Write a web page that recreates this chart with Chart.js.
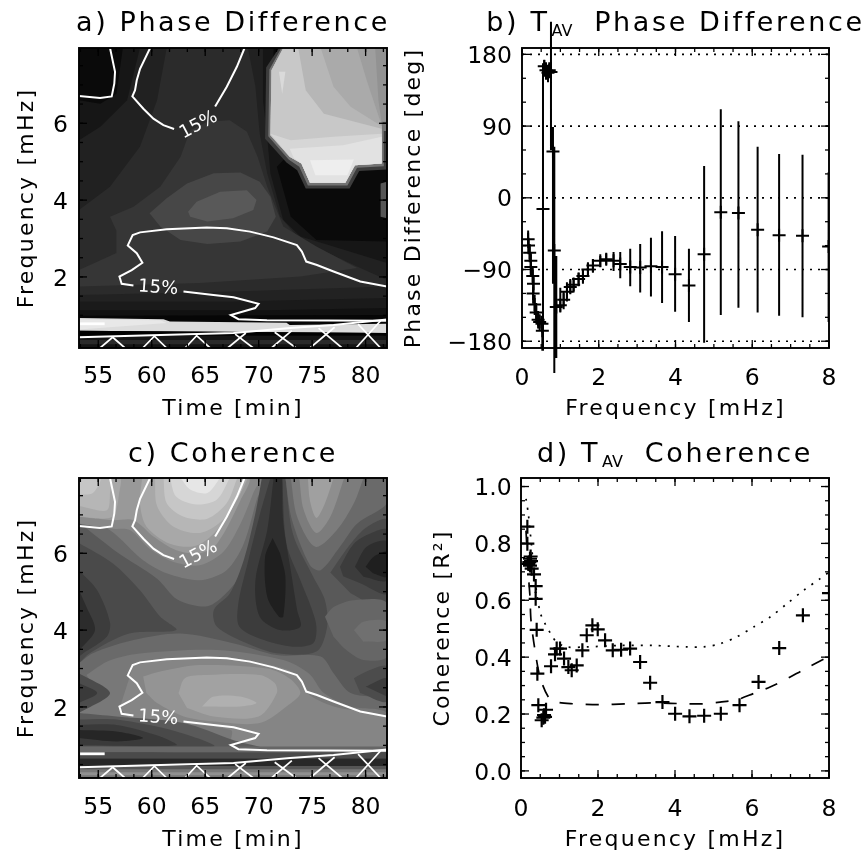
<!DOCTYPE html>
<html>
<head>
<meta charset="utf-8">
<title>Phase difference and coherence</title>
<script src="https://cdn.jsdelivr.net/npm/chart.js@4/dist/chart.umd.js"></script>
<style>
  html, body { margin: 0; padding: 0; background: #fff; overflow: hidden; }
  body { width: 863px; height: 855px; position: relative; }
  canvas { position: absolute; filter: blur(0.6px); }
</style>
</head>
<body>
<canvas id="panelA" width="400" height="425" style="left:0;top:0"></canvas>
<canvas id="panelB" width="463" height="425" style="left:400px;top:0"></canvas>
<canvas id="panelC" width="400" height="425" style="left:0;top:430px"></canvas>
<canvas id="panelD" width="463" height="425" style="left:400px;top:430px"></canvas>
<script>
// axes
const timeTicks = [55, 60, 65, 70, 75, 80];
const freqTicks = [2, 4, 6];
const freqAxisTicks = [0, 2, 4, 6, 8];
const phaseTicks = [-180, -90, 0, 90, 180];
const phaseTickLabels = ['\u2212180', '\u221290', '0', '90', '180'];
const cohTicks = [0, 0.2, 0.4, 0.6, 0.8, 1];
const cohTickLabels = ['0.0', '0.2', '0.4', '0.6', '0.8', '1.0'];

// white 15% contours, same on both maps: [minutes, mHz]
const contourTopLeft = [[56.1,7.96],[56.57,7.34],[56.5,7.03],[56.26,6.7],[55.17,6.66],[53.2,6.71]];
const contourTopA = [[59.85,7.96],[58.91,7.42],[58.6,7.12],[58.44,6.86],[58.19,6.7],[59.22,6.38],[60.16,6.12],[61.09,5.95],[62.09,5.85]];
const contourTopB = [[65.93,6.44],[67.02,6.95],[67.96,7.47],[68.68,7.96]];
const contourMidA = [[82,1.75],[79.5,1.88],[77,2.14],[75.45,2.31],[74.45,2.4],[74.04,2.66],[73.57,2.83],[71.39,3.03],[69.2,3.18],[67.02,3.27],[65.15,3.29],[61.41,3.24],[58.91,3.16],[58.22,3.09],[57.76,2.82],[58.6,2.62],[59.13,2.37],[58.13,2.18],[56.98,2.01],[57.19,1.82],[58.29,1.78]];
const contourMidB = [[62.97,1.62],[65.77,1.53],[67.65,1.47],[69.99,1.3],[69.67,1.19],[67.4,1.01],[68.11,0.9],[70.77,0.87],[82,0.86]];
const contourCone = [[53.2,0.43],[58.29,0.47],[67.65,0.54],[72.95,0.67],[77,0.75],[82,0.89]];
const contourDash = [[53.3,0.78],[55.6,0.78]];
const hatchLines = [
  [[55.17,0.15],[56.35,0.43],[57.5,0.15]],
  [[59.16,0.15],[60.25,0.46],[61.4,0.15]],
  [[63.12,0.15],[64.2,0.47],[65.46,0.15]],
  [[67.1,0.15],[68.8,0.54]], [[67.8,0.51],[69.5,0.15]],
  [[71.2,0.15],[73.1,0.6]], [[71.5,0.56],[73.5,0.15]],
  [[74.8,0.15],[77.1,0.69]], [[75.6,0.67],[77.8,0.15]],
  [[79.1,0.15],[81.4,0.86]], [[79.3,0.77],[81.4,0.15]]
];
const contourLabelTime = [64.4, 60.6];
const contourLabelFreq = [5.95, 1.71];
const contourLabelAngle = [-28, 4];

// panel a filled levels, painted in this order
const phaseBandGrays = ['#0a0a0a','#161616','#212121','#2b2b2b','#363636','#474747','#595959','#222222','#1a1a1a','#111111','#060606','#dcdcdc','#e8e8e8','#000000','#141414','#2a2a2a','#565656','#3c3c3c','#737373','#929292','#9e9e9e','#aaaaaa','#b6b6b6','#c8c8c8','#d6d6d6','#e2e2e2','#eeeeee','#dadada'];
const phaseBands = [
  [[53.2,0.15],[82,0.15],[82,7.96],[53.2,7.96]],
  [[53.2,6.6],[55.2,6.51],[56.7,6.77],[57.3,7.96],[71.4,7.96],[71.2,5.65],[72.6,5.13],[71.7,4.87],[73,3.57],[75.4,2.96],[82,2.92],[82,0.54],[53.2,0.54]],
  [[53.2,5.56],[55.2,5.91],[57.7,6.6],[58.9,7.96],[70.4,7.96],[70.4,6.6],[70.8,5.65],[71.1,4.69],[72.3,3.48],[73.9,3.05],[77.6,2.74],[82,2.36],[82,0.54],[53.2,0.54]],
  [[53.2,3.74],[56.1,4.35],[58.9,5.39],[60.5,6.6],[61.4,7.96],[69,7.96],[69.7,6.95],[70.1,5.73],[70.8,4.69],[72,3.57],[73.9,2.96],[79.2,2.27],[82,1.92],[82,1.4],[53.2,1.4]],
  [[56.7,3.2],[56.1,3.57],[58.3,3.83],[60.8,4.35],[62.7,5.13],[63.6,5.82],[65.2,6.04],[67.3,6.08],[68.9,5.78],[69.9,5.13],[70.8,4.35],[72.3,3.31],[75.4,2.79],[79.2,2.23],[73.9,2.01],[64.5,1.84],[53.2,1.75],[53.2,2.18],[56.7,2.62]],
  [[59.8,3.66],[61.4,4.05],[63.3,4.43],[65.8,4.7],[68.3,4.72],[70.1,4.48],[71.1,4.09],[71.6,3.57],[70.8,3.18],[68.3,2.92],[65.2,2.86],[62.7,2.96],[60.8,3.31]],
  [[63.4,3.7],[64.2,3.96],[66.4,4.22],[68.9,4.26],[69.8,4],[69.5,3.74],[67.6,3.53],[65.2,3.44],[63.6,3.57]],
  [[53.2,1.53],[67.6,1.62],[82,1.75],[82,0.54],[53.2,0.54]],
  [[53.2,1.36],[67.6,1.36],[82,1.45],[82,0.54],[53.2,0.54]],
  [[53.2,1.13],[70.8,1.13],[82,1.19],[82,0.54],[53.2,0.54]],
  [[53.2,0.99],[82,1.01],[82,0.54],[53.2,0.54]],
  [[53.2,0.93],[61.1,0.9],[61.7,0.84],[72.6,0.81],[72.9,0.75],[82,0.78],[82,0.54],[53.2,0.6]],
  [[53.2,0.89],[60.8,0.87],[61.4,0.8],[53.2,0.63]],
  [[53.2,0.6],[82,0.54],[82,0.47],[53.2,0.47]],
  [[53.2,0.47],[82,0.47],[82,0.15],[53.2,0.15]],
  [[53.2,0.36],[82,0.36],[82,0.25],[53.2,0.25]],
  [[81.4,4.43],[82,4.48],[82,3.53],[81.4,3.57]],
  [[72,8],[70.7,7.45],[70.6,5.6],[72.6,4.98],[73.6,4.78],[74.4,4.3],[78.5,4.3],[79.4,4.76],[82,4.8],[82,8]],
  [[72.2,8],[71,7.4],[70.9,5.66],[72.8,5.06],[73.8,4.87],[74.6,4.38],[78.3,4.38],[79.2,4.84],[81.7,4.88],[81.7,5.8],[82,5.8],[82,8]],
  [[72.3,7.96],[71.2,7.38],[71.1,5.69],[72.9,5.13],[74,4.95],[74.8,4.45],[78.1,4.45],[79,4.91],[81.5,4.95],[81.5,6.04],[82,6.04],[82,7.96]],
  [[72.3,7.96],[80.9,7.96],[81.2,6.6],[81.5,6],[81.5,4.95],[79,4.91],[78.1,4.45],[74.8,4.45],[74,4.95],[72.9,5.13],[71.1,5.69],[71.2,7.38]],
  [[72.3,7.96],[79.2,7.96],[80.1,7.12],[81.5,5.95],[81.5,4.95],[79,4.91],[78.1,4.45],[74.8,4.45],[74,4.95],[72.9,5.13],[71.1,5.69],[71.2,7.38]],
  [[72.3,7.96],[75.8,7.96],[77,6.95],[78.6,6.43],[81.5,5.92],[81.5,4.95],[79,4.91],[78.1,4.45],[74.8,4.45],[74,4.95],[72.9,5.13],[71.1,5.69],[71.2,7.38]],
  [[72.3,7.96],[73.7,7.96],[74.4,6.86],[76.1,6.25],[81.5,5.86],[81.5,4.95],[79,4.91],[78.1,4.45],[74.8,4.45],[74,4.95],[72.9,5.13],[71.1,5.69],[71.2,7.38]],
  [[71.1,5.73],[73,5.56],[77,5.65],[81.5,5.73],[81.5,4.95],[79,4.91],[78.1,4.45],[74.8,4.45],[74,4.95],[72.9,5.13]],
  [[72.9,5.34],[77.9,5.43],[81.5,5.65],[81.5,4.95],[79,4.91],[78.1,4.45],[74.8,4.45],[74,4.95],[73.3,5.09]],
  [[74.8,5.04],[78.9,5.06],[78.3,4.65],[75.3,4.65]],
  [[71.9,7.34],[72.5,7.34],[72.2,6.77]]
];

// panel c filled levels, painted in this order
const cohBandGrays = ['#595959','#6a6a6a','#7a7a7a','#888888','#999999','#a8a8a8','#a8a8a8','#b6b6b6','#b6b6b6','#c6c6c6','#c6c6c6','#d6d6d6','#e6e6e6','#4a4a4a','#3c3c3c','#2e2e2e','#1f1f1f','#6a6a6a','#7c7c7c','#8e8e8e','#a0a0a0','#4a4a4a','#3c3c3c','#2e2e2e','#1f1f1f','#666666','#707070','#4a4a4a','#3c3c3c','#2c2c2c','#6a6a6a','#787878','#858585','#949494','#a2a2a2','#b0b0b0','#4c4c4c','#3c3c3c','#4c4c4c','#3a3a3a','#5a5a5a','#494949','#3a3a3a','#262626'];
const cohBands = [
  [[53.2,0.15],[82,0.15],[82,7.96],[53.2,7.96]],
  [[53.2,6.8],[56.7,6.04],[60.5,5.34],[62.4,4.8],[65.2,4.62],[67,4.97],[68.6,5.58],[69.8,6.6],[71.1,7.96],[53.2,7.96]],
  [[53.2,6.95],[56.1,6.6],[59.2,5.82],[61.4,5.48],[64.5,5.3],[67,5.56],[68.6,6.25],[69.8,7.38],[70.4,7.96],[53.2,7.96]],
  [[53.2,6.77],[56.4,6.64],[58,6.6],[59.8,6.12],[62,5.78],[64.5,5.69],[66.7,6.04],[68.3,6.77],[69.5,7.57],[70,7.96],[53.2,7.96]],
  [[53.2,6.95],[56.4,6.86],[58.3,6.86],[60.2,6.43],[62.3,6.08],[64.5,6],[66.1,6.25],[68.3,7.38],[69,7.96],[53.2,7.96]],
  [[53.2,6.95],[56.3,6.95],[57,7.64],[57,7.96],[53.2,7.96]],
  [[59.1,7.96],[58.9,7.3],[59.5,6.7],[61.7,6.25],[64.2,6.2],[66.4,6.7],[68.3,7.57],[69,7.96]],
  [[53.2,7.23],[55.8,7.12],[56.1,7.57],[56.1,7.96],[53.2,7.96]],
  [[60.3,7.96],[60.5,7.23],[62,6.7],[64.5,6.53],[66.7,6.88],[68.3,7.57],[68.7,7.96]],
  [[53.2,7.53],[54.5,7.57],[55.2,7.96],[53.2,7.96]],
  [[61.1,7.96],[61.4,7.3],[63,6.95],[65.2,6.9],[67,7.3],[68,7.96]],
  [[61.7,7.96],[62.3,7.47],[64.2,7.27],[66.1,7.4],[67.3,7.96]],
  [[62.7,7.96],[63.6,7.66],[65.2,7.57],[66.4,7.96]],
  [[70.3,7.96],[69.7,7.05],[68.6,5.82],[67.3,4.95],[65.8,4.52],[66.1,4.09],[68.9,3.66],[71.7,3.4],[75.4,3.44],[76.4,4.09],[76.2,4.78],[75.1,5.39],[73.2,6.51],[72.5,7.96]],
  [[71.1,7.96],[70.1,7],[69,5.78],[68.1,4.69],[68.2,4.09],[70.5,3.74],[73.2,3.57],[75.1,3.66],[75.4,4.09],[74.9,4.6],[73.9,5.3],[72.6,6.25],[72.2,7.96]],
  [[71.4,7.96],[70.8,6.6],[69.7,5.3],[70.1,4.35],[72,4],[73.9,4.09],[73.6,4.52],[73,5.56],[72.3,6.8],[72.2,7.96]],
  [[71.3,6.4],[70.6,5.91],[70.8,4.87],[71.9,4.35],[72.3,4.35],[72.5,5.39],[72,6]],
  [[72.5,7.96],[73.1,6.88],[74.8,5.69],[75.8,5.56],[77.6,6.17],[79.2,6.77],[82,7.3],[82,7.96]],
  [[73,7.96],[73.6,6.95],[75.3,6.17],[77.3,6.6],[78.9,7.3],[79.8,7.96]],
  [[73.8,7.96],[74.2,7.14],[75.4,6.53],[76.7,6.95],[78,7.96]],
  [[74.6,7.96],[74.8,7.36],[75.4,6.92],[76.2,7.3],[77,7.96]],
  [[76.7,5.5],[78.6,6.25],[80.1,6.68],[82,6.86],[82,4.53],[78.6,4.96]],
  [[77.6,5.65],[78.9,6.25],[80.4,6.51],[82,6.6],[82,4.96],[79.5,5.22],[77.9,5.4]],
  [[79,5.65],[80.1,6.17],[82,6.3],[82,5.3],[79.8,5.39]],
  [[80,5.65],[80.7,5.9],[82,6.04],[82,5.39],[80.7,5.48]],
  [[76.2,4.35],[77,4.6],[78.9,4.78],[82,4.7],[82,3.31],[79.8,3.22],[78.2,3.48],[77,3.83]],
  [[78.9,4],[79.8,4.22],[82,4.22],[82,3.74],[79.8,3.7]],
  [[53.2,6.27],[56.4,5.73],[58.9,5.04],[60.8,4.35],[62.3,4],[57.9,3.91],[54.2,3.4],[53.2,3.14]],
  [[53.2,5.56],[54.9,5.04],[56.1,4.2],[55.8,3.83],[53.6,3.4],[53.2,3.31]],
  [[53.2,5.04],[53.9,4.6],[54.7,4],[53.3,3.49]],
  [[53.2,3.14],[54.5,3.4],[58.3,3.74],[62.7,3.91],[67.6,3.66],[71.7,3.35],[75.8,3.31],[77,2.88],[78.6,2.36],[82,2.14],[82,0.9],[53.2,0.9]],
  [[53.9,2.83],[56,3.2],[58.9,3.39],[66.1,3.48],[72.3,3.22],[74.7,2.87],[76.1,2.36],[78.6,2.01],[82,1.84],[82,0.97],[53.2,0.97],[53.2,1.93],[55.2,2.27]],
  [[58.3,3.09],[61.4,3.24],[67,3.29],[71.4,3.07],[73.6,2.83],[74.5,2.36],[77,2.01],[82,1.71],[82,0.9],[67.4,0.9],[67.4,1.4],[58.3,1.66],[57,1.97]],
  [[59.2,2.79],[60.8,2.92],[64.5,3.09],[70.8,3],[72.9,2.74],[73.9,2.36],[72.6,2.01],[70.1,1.58],[65.8,1.62],[63,1.75],[60.5,2.1],[59.5,2.36]],
  [[62.5,2.36],[63.1,2.75],[65.1,2.83],[70.1,2.83],[71.5,2.62],[71.7,2.36],[70,1.75],[65.8,1.75],[63.3,1.97]],
  [[64.7,2.01],[65.8,2.27],[68.3,2.27],[69.8,2.1],[68.3,2.01],[65.5,2.01]],
  [[78.9,2.75],[80.4,2.96],[82,3.05],[82,2.14],[79.5,2.36]],
  [[80,2.53],[82,2.75],[82,2.27]],
  [[53.2,2.88],[56.1,2.36],[53.2,1.84]],
  [[53.2,2.62],[54.9,2.36],[53.2,2.1]],
  [[53.2,1.84],[56.7,1.75],[63,1.58],[67.6,1.14],[70.8,0.88],[53.2,0.88]],
  [[53.2,1.67],[56.7,1.67],[62.3,1.36],[65.8,0.97],[53.2,0.97]],
  [[53.2,1.53],[56.7,1.53],[60.8,1.23],[62.3,1],[53.2,1]],
  [[53.2,1.4],[56.7,1.36],[59.2,1.19],[56.7,1.1],[53.2,1.19]]
];
const cohStripeGrays = ['#666666','#4a4a4a','#282828','#555555','#777777','#909090'];
const cohStripes = [
  [[53.2,0.97],[82,0.97],[82,0.82],[53.2,0.82]],
  [[53.2,0.82],[82,0.82],[82,0.66],[53.2,0.66]],
  [[53.2,0.66],[82,0.66],[82,0.46],[53.2,0.46]],
  [[53.2,0.46],[82,0.46],[82,0.15],[53.2,0.15]],
  [[53.2,0.38],[82,0.38],[82,0.17],[53.2,0.17]],
  [[53.2,0.3],[82,0.3],[82,0.22],[53.2,0.22]]
];

// panel b
const phaseFreq = [0.16,0.17,0.2,0.23,0.23,0.28,0.3,0.29,0.33,0.37,0.42,0.46,0.52,0.53,0.547,0.58,0.625,0.677,0.71,0.755,0.807,0.842,0.894,0.998,1.085,1.171,1.258,1.345,1.475,1.588,1.718,1.848,2.04,2.195,2.386,2.56,2.82,3.08,3.36,3.65,3.99,4.35,4.746,5.18,5.64,6.14,6.7,7.31,7.99];
const phaseValue = [-52,-60,-69,-79,-87,-98,-108,-120,-134,-144,-153,-156,-158,-167,-14,165,160,157,160,158,58,-66,-137,-135,-128,-118,-112,-109,-102,-98,-90,-85,-79,-77,-79,-83,-87,-87.5,-86,-87,-96,-110,-71,-18,-19,-40,-47,-47.5,-61];
const phaseHigh = [-41,-50,-58,-68,-76,-88,-97,-108,-122,-132,-142,-146,-148,-155,169,173,170,167,170,221,89,64,-73,-113,-117,-106,-102,-100,-94,-90,-81,-77,-73,-70,-68,-68,-64,-58,-50,-42,-48,-64,40,111,96,64,55,54,32];
const phaseLow = [-63,-71,-81,-91,-99,-109,-120,-133,-147,-157,-164,-167,-169,-192,-192,152,148,145,150,60,-108,-220,-201,-144,-140,-130,-121,-119,-111,-108,-98,-94,-87,-84,-92,-101,-111,-119,-124,-132,-143,-156,-182,-147,-138,-144,-148,-150,-156];
const phaseRefLines = [180, 90, 0, -90, -180];
const refLineFreq = [0, 8];

// panel d
const cohFreq = [0.165,0.165,0.19,0.234,0.25,0.217,0.26,0.234,0.277,0.338,0.381,0.381,0.407,0.425,0.45,0.65,0.598,0.537,0.58,0.624,0.78,0.884,0.927,1.014,1.118,1.23,1.317,1.447,1.594,1.707,1.854,1.993,2.184,2.383,2.6,2.834,3.094,3.354,3.674,4.003,4.376,4.757,5.19,5.676,6.17,6.707,7.322,8];
const cohValue = [0.859,0.799,0.728,0.746,0.754,0.734,0.738,0.722,0.711,0.691,0.65,0.605,0.496,0.342,0.231,0.215,0.196,0.178,0.187,0.19,0.368,0.41,0.43,0.43,0.395,0.365,0.354,0.371,0.424,0.477,0.512,0.498,0.459,0.424,0.426,0.43,0.383,0.31,0.242,0.201,0.192,0.194,0.201,0.231,0.313,0.432,0.547,0.625];
const dottedFreq = [0.13,0.19,0.277,0.364,0.494,0.624,0.797,0.927,1.187,1.707,2.574,3.44,4.31,4.74,5.17,5.6,6.04,6.47,6.91,7.34,7.77,8];
const dottedCoh = [0.957,0.904,0.787,0.67,0.559,0.518,0.477,0.453,0.436,0.436,0.441,0.441,0.436,0.436,0.447,0.471,0.506,0.541,0.588,0.635,0.676,0.699];
const dashedFreq = [0.13,0.19,0.234,0.26,0.364,0.494,0.71,0.927,1.36,2.05,2.75,3.44,4.31,4.74,5.17,5.6,6.04,6.47,6.91,7.34,8];
const dashedCoh = [0.845,0.693,0.611,0.529,0.424,0.33,0.26,0.242,0.236,0.233,0.236,0.239,0.236,0.236,0.242,0.25,0.272,0.295,0.324,0.356,0.403];

const fontName = '"DejaVu Sans", sans-serif';
const ink = '#000';
const titleSize = 27;
const titleSpacing = 2.6;

function pairsToPoints(pairs) {
    return pairs.map(p => ({ x: p[0], y: p[1] }));
}

function zip(xs, ys) {
    return xs.map((x, i) => ({ x: x, y: ys[i] }));
}

// draws the box and the inward ticks on all four sides, and the extras on top
const idlFrame = {
    id: 'idlFrame',
    beforeDraw(chart) {
        // title goes over the plot, wider than it, and not over the whole canvas
        const box = chart.titleBlock;
        const mid = (chart.chartArea.left + chart.chartArea.right) / 2;
        box.left = mid - 300;
        box.right = mid + 300;

        // Chart.js has no letter spacing option, so wrap the two text painters once
        if (chart.$spaced) return;
        chart.$spaced = true;
        const wrap = (obj, name, px) => {
            const orig = obj[name];
            obj[name] = function () {
                chart.ctx.letterSpacing = px + 'px';
                orig.apply(this, arguments);
                chart.ctx.letterSpacing = '0px';
            };
        };
        wrap(box, 'draw', titleSpacing);
        wrap(chart.scales.x, 'drawTitle', 2.2);
        wrap(chart.scales.y, 'drawTitle', 2.2);
    },
    afterDatasetsDraw(chart, args, opts) {
        const ctx = chart.ctx;
        const area = chart.chartArea;
        const xs = chart.scales.x;
        const ys = chart.scales.y;
        ctx.save();
        ctx.strokeStyle = ink;

        // 15% labels on the maps
        if (opts.contourLabels) {
            ctx.fillStyle = '#fff';
            ctx.font = '18px ' + fontName;
            ctx.textAlign = 'center';
            ctx.textBaseline = 'middle';
            contourLabelTime.forEach((t, i) => {
                ctx.save();
                ctx.translate(xs.getPixelForValue(t), ys.getPixelForValue(contourLabelFreq[i]));
                ctx.rotate(contourLabelAngle[i] * Math.PI / 180);
                ctx.fillText('15%', 0, 0);
                ctx.restore();
            });
        }

        const tick = (x1, y1, x2, y2) => {
            ctx.beginPath();
            ctx.moveTo(x1, y1);
            ctx.lineTo(x2, y2);
            ctx.stroke();
        };
        const vertical = (v, len) => {
            const px = xs.getPixelForValue(v);
            tick(px, area.bottom, px, area.bottom - len);
            tick(px, area.top, px, area.top + len);
        };
        const horizontal = (v, len) => {
            const py = ys.getPixelForValue(v);
            tick(area.left, py, area.left + len, py);
            tick(area.right, py, area.right - len, py);
        };
        ctx.lineWidth = 1.3;
        for (let v = opts.xMinorFrom; v <= xs.max; v += opts.xMinorStep) if (v >= xs.min) vertical(v, 4);
        for (let v = opts.yMinorFrom; v <= ys.max; v += opts.yMinorStep) if (v >= ys.min) horizontal(v, 4);
        xs.ticks.forEach(t => vertical(t.value, 8));
        ys.ticks.forEach(t => horizontal(t.value, 8));

        ctx.lineWidth = 1.9;
        ctx.strokeRect(area.left, area.top, area.right - area.left, area.bottom - area.top);
        ctx.restore();
    },
    afterDraw(chart, args, opts) {
        if (!opts.subscript) return;
        // the AV in T_AV: the title text leaves room for it
        const ctx = chart.ctx;
        const box = chart.titleBlock;
        const title = chart.options.plugins.title;
        ctx.save();
        ctx.fillStyle = ink;
        ctx.font = titleSize + 'px ' + fontName;
        ctx.letterSpacing = titleSpacing + 'px';
        const start = (box.left + box.right) / 2 - ctx.measureText(title.text).width / 2;
        const x = start + ctx.measureText(opts.subscriptAfter).width + 2;
        const y = box.top + title.padding.top + titleSize * 1.2 / 2 + 8;
        ctx.font = '16px ' + fontName;
        ctx.letterSpacing = '0px';
        ctx.textBaseline = 'middle';
        ctx.fillText(opts.subscript, x, y);
        ctx.restore();
    }
};

function axis(cfg) {
    return {
        type: 'linear',
        min: cfg.min,
        max: cfg.max,
        grid: { display: false, drawTicks: false },
        border: { display: false },
        afterBuildTicks: s => { s.ticks = cfg.ticks.map(v => ({ value: v })); },
        afterFit: s => {
            if (s.isHorizontal()) s.height = 77;
            else s.width = cfg.size;
        },
        ticks: {
            autoSkip: false,
            maxRotation: 0,
            minRotation: 0,
            padding: cfg.tickPad,
            labelOffset: cfg.labelOffset || 0,
            color: ink,
            font: { family: fontName, size: 23.5, lineHeight: 1.2 },
            callback: (value, index) => (cfg.labels ? cfg.labels[index] : String(value))
        },
        title: {
            display: true,
            text: cfg.title,
            color: ink,
            padding: cfg.titlePad,
            font: { family: fontName, size: 22, lineHeight: 1.2 }
        }
    };
}

function panel(id, cfg) {
    return new Chart(document.getElementById(id), {
        type: 'scatter',
        data: { datasets: cfg.datasets },
        plugins: [idlFrame],
        options: {
            responsive: false,
            animation: false,
            events: [],
            layout: { autoPadding: false, padding: { left: 0, top: 0, bottom: 0, right: cfg.rightPad } },
            scales: { x: axis(cfg.x), y: axis(cfg.y) },
            plugins: {
                legend: { display: false },
                tooltip: { enabled: false },
                title: {
                    display: true,
                    text: cfg.title,
                    color: ink,
                    padding: cfg.titlePad,
                    font: { family: fontName, size: titleSize, lineHeight: 1.2, weight: 'normal' }
                },
                idlFrame: cfg.frame
            }
        }
    });
}

function fillBand(pairs, gray, tension) {
    return { showLine: true, fill: 'shape', backgroundColor: gray, borderWidth: 0, pointRadius: 0, tension: tension, data: pairsToPoints(pairs) };
}

function whiteLine(points, width) {
    return { showLine: true, fill: false, borderColor: '#fff', borderWidth: width, pointRadius: 0, data: points };
}

// datasets paint last to first, so contours come first and the deepest level last
function mapDatasets(bands, grays, stripes, stripeGrays, tension) {
    const lines = [contourTopLeft, contourTopA, contourTopB, contourMidA, contourMidB, contourCone]
        .map(c => whiteLine(pairsToPoints(c), 2));
    lines.push(whiteLine(pairsToPoints(contourDash), 2.8));
    hatchLines.forEach(h => lines.push(whiteLine(pairsToPoints(h), 1.7)));
    const fills = bands.map((b, i) => fillBand(b, grays[i], tension));
    stripes.forEach((b, i) => fills.push(fillBand(b, stripeGrays[i], 0)));
    return lines.concat(fills.reverse());
}

const mapFrame = { contourLabels: true, xMinorFrom: 53.33, xMinorStep: 5 / 3, yMinorFrom: 0.5, yMinorStep: 0.5 };

panel('panelA', {
    title: 'a) Phase Difference',
    titlePad: { top: 7.8, bottom: 7.8 },
    rightPad: 13,
    x: { min: 53.2, max: 82, ticks: timeTicks, size: 79, tickPad: 14.6, title: 'Time [min]', titlePad: { top: 0, bottom: 2.8 } },
    y: { min: 0.15, max: 7.96, ticks: freqTicks, size: 79, tickPad: 11, labelOffset: 2.5, title: 'Frequency [mHz]', titlePad: { top: 14, bottom: 0 } },
    frame: mapFrame,
    datasets: mapDatasets(phaseBands, phaseBandGrays, [], [], 0)
});

panel('panelC', {
    title: 'c) Coherence',
    titlePad: { top: 8.8, bottom: 6.8 },
    rightPad: 13,
    x: { min: 53.2, max: 82, ticks: timeTicks, size: 79, tickPad: 16, title: 'Time [min]', titlePad: { top: 0, bottom: 1.4 } },
    y: { min: 0.15, max: 7.96, ticks: freqTicks, size: 79, tickPad: 11, labelOffset: 2.5, title: 'Frequency [mHz]', titlePad: { top: 14, bottom: 0 } },
    frame: mapFrame,
    datasets: mapDatasets(cohBands, cohBandGrays, cohStripes, cohStripeGrays, 0.3)
});

// one line with gaps for all the error bars
const errorBarPoints = [];
phaseFreq.forEach((f, i) => {
    errorBarPoints.push({ x: f, y: phaseLow[i] }, { x: f, y: phaseHigh[i] }, { x: f, y: null });
});
const plotClip = { left: false, top: false, bottom: false, right: 0 };

panel('panelB', {
    title: 'b) T    Phase Difference',
    titlePad: { top: 7.8, bottom: 7.8 },
    rightPad: 34,
    x: { min: 0, max: 8, ticks: freqAxisTicks, size: 122, tickPad: 17, title: 'Frequency [mHz]', titlePad: { top: 0, bottom: 2.8 } },
    y: { min: -188.5, max: 188, ticks: phaseTicks, labels: phaseTickLabels, size: 122, tickPad: 10, labelOffset: 2.5, title: 'Phase Difference [deg]', titlePad: { top: 0.6, bottom: 0 } },
    frame: { subscript: 'AV', subscriptAfter: 'b) T', xMinorFrom: 0, xMinorStep: 0.5, yMinorFrom: -180, yMinorStep: 30 },
    datasets: [
        { data: zip(phaseFreq, phaseValue), pointStyle: 'cross', pointRadius: 6.5, pointBorderWidth: 2, pointBorderColor: ink, clip: plotClip },
        { data: errorBarPoints, showLine: true, fill: false, borderColor: ink, borderWidth: 2, pointRadius: 0, clip: plotClip }
    ].concat(phaseRefLines.map(level => ({
        data: refLineFreq.map(f => ({ x: f, y: level })),
        showLine: true, fill: false, borderColor: ink, borderWidth: 1.7, borderDash: [2, 6], pointRadius: 0
    })))
});

panel('panelD', {
    title: 'd) T    Coherence',
    titlePad: { top: 8.8, bottom: 6.8 },
    rightPad: 34,
    x: { min: 0, max: 8, ticks: freqAxisTicks, size: 121, tickPad: 17.6, title: 'Frequency [mHz]', titlePad: { top: 0, bottom: 1.4 } },
    y: { min: -0.025, max: 1.03, ticks: cohTicks, labels: cohTickLabels, size: 121, tickPad: 9.3, labelOffset: 2.5, title: 'Coherence [R\u00b2]', titlePad: { top: 29.8, bottom: 0 } },
    frame: { subscript: 'AV', subscriptAfter: 'd) T', xMinorFrom: 0, xMinorStep: 0.5, yMinorFrom: 0, yMinorStep: 0.05 },
    datasets: [
        { data: zip(cohFreq, cohValue), pointStyle: 'cross', pointRadius: 7, pointBorderWidth: 2.2, pointBorderColor: ink, clip: plotClip },
        { data: zip(dottedFreq, dottedCoh), showLine: true, fill: false, borderColor: ink, borderWidth: 1.7, borderDash: [2, 7], pointRadius: 0, tension: 0.3 },
        { data: zip(dashedFreq, dashedCoh), showLine: true, fill: false, borderColor: ink, borderWidth: 1.7, borderDash: [13, 13], pointRadius: 0, tension: 0.3 }
    ]
});
</script>
</body>
</html>
